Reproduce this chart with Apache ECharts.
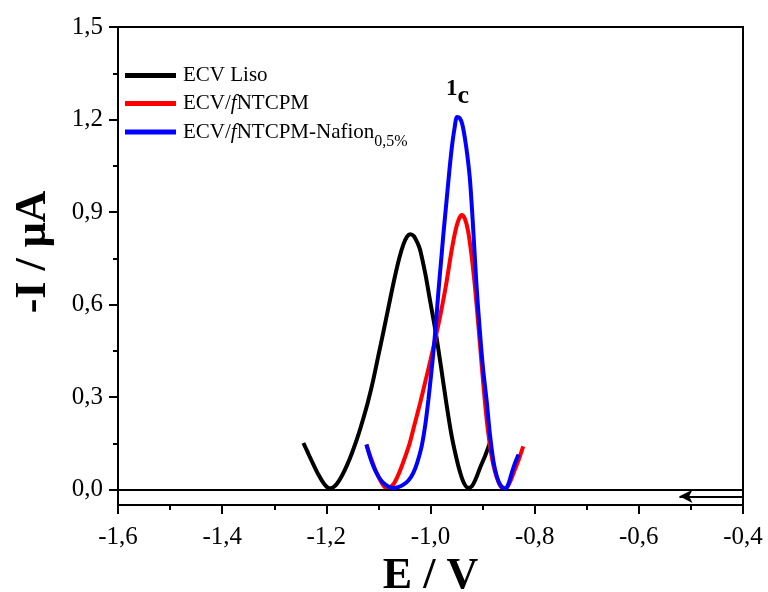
<!DOCTYPE html>
<html>
<head>
<meta charset="utf-8">
<script src="https://cdn.jsdelivr.net/npm/echarts@6/dist/echarts.min.js"></script>
<style>html,body{margin:0;padding:0;background:#fff}#c{width:768px;height:592px}</style>
</head>
<body>
<div id="c"></div>
<script>
// ECV Liso
const blackE = [-1.244,-1.235,-1.225,-1.215,-1.205,-1.198,-1.193,-1.187,-1.180,-1.170,-1.160,-1.150,-1.140,-1.130,-1.120,-1.110,-1.100,-1.090,-1.080,-1.070,-1.060,-1.052,-1.045,-1.039,-1.032,-1.025,-1.020,-1.010,-1.000,-0.990,-0.980,-0.970,-0.960,-0.950,-0.943,-0.936,-0.928,-0.921,-0.913,-0.905,-0.895,-0.886];
const blackI = [0.151,0.118,0.082,0.048,0.020,0.007,0.004,0.007,0.018,0.045,0.080,0.122,0.170,0.225,0.285,0.355,0.435,0.515,0.597,0.678,0.750,0.795,0.820,0.828,0.822,0.800,0.778,0.700,0.605,0.510,0.400,0.285,0.180,0.100,0.055,0.022,0.006,0.010,0.035,0.070,0.110,0.151];
// ECV/fNTCPM
const redE = [-1.123,-1.115,-1.105,-1.095,-1.088,-1.083,-1.077,-1.070,-1.060,-1.050,-1.040,-1.030,-1.020,-1.010,-1.000,-0.990,-0.980,-0.970,-0.960,-0.952,-0.946,-0.940,-0.934,-0.928,-0.922,-0.916,-0.910,-0.904,-0.898,-0.892,-0.886,-0.880,-0.873,-0.866,-0.859,-0.853,-0.846,-0.838,-0.830,-0.822];
const redI = [0.146,0.105,0.060,0.025,0.008,0.004,0.008,0.020,0.055,0.100,0.150,0.215,0.280,0.350,0.420,0.495,0.575,0.665,0.770,0.840,0.875,0.890,0.878,0.840,0.770,0.680,0.570,0.450,0.330,0.225,0.145,0.085,0.040,0.012,0.003,0.008,0.030,0.065,0.100,0.140];
// ECV/fNTCPM-Nafion 0,5%
const blueE = [-1.123,-1.115,-1.107,-1.099,-1.091,-1.081,-1.071,-1.062,-1.052,-1.042,-1.033,-1.025,-1.017,-1.010,-1.004,-0.999,-0.994,-0.989,-0.985,-0.980,-0.975,-0.969,-0.964,-0.959,-0.954,-0.949,-0.944,-0.939,-0.934,-0.929,-0.924,-0.918,-0.912,-0.905,-0.899,-0.892,-0.886,-0.879,-0.873,-0.867,-0.861,-0.855,-0.849,-0.844,-0.838,-0.831];
const blueI = [0.146,0.100,0.065,0.040,0.022,0.010,0.005,0.008,0.016,0.030,0.054,0.090,0.140,0.210,0.292,0.370,0.454,0.550,0.638,0.735,0.833,0.940,1.030,1.110,1.170,1.208,1.205,1.185,1.140,1.080,1.000,0.845,0.670,0.508,0.390,0.285,0.180,0.090,0.045,0.018,0.006,0.004,0.025,0.054,0.085,0.114];

const yMajor = [0, 0.3, 0.6, 0.9, 1.2, 1.5];
const yMinor = [0.15, 0.45, 0.75, 1.05, 1.35];
const seriesNames = ['ECV Liso', 'ECV/fNTCPM', 'ECV/fNTCPM-Nafion0,5%'];

const FONT = '"Liberation Serif","Times New Roman",serif';
const fmt = v => (Math.round(v * 10) / 10).toFixed(1).replace('.', ',');
const zip = (a, b) => a.map((x, i) => [x, b[i]]);

const chart = echarts.init(document.getElementById('c'));

const legendRich = {
  a: {fontFamily: FONT, fontSize: 21, color: '#000', lineHeight: 24, verticalAlign: 'middle'},
  i: {fontFamily: FONT, fontSize: 21, color: '#000', fontStyle: 'italic', lineHeight: 24, verticalAlign: 'middle'},
  s: {fontFamily: FONT, fontSize: 16, color: '#000', lineHeight: 16, padding: [20, 0, 0, 0], verticalAlign: 'middle'}
};
function legendFmt(name) {
  if (name === seriesNames[0]) return '{a|ECV Liso}';
  if (name === seriesNames[1]) return '{a|ECV/}{i|f}{a|NTCPM}';
  return '{a|ECV/}{i|f}{a|NTCPM-Nafion}{s|0,5%}';
}
function mkLegend(idx, top) {
  return {
    data: [seriesNames[idx]], left: 125, top: top, orient: 'vertical', padding: 0,
    icon: 'rect', itemWidth: 51, itemHeight: 5, itemGap: 0,
    formatter: legendFmt,
    textStyle: {rich: legendRich, padding: [0, 0, 0, 2]},
    selectedMode: false
  };
}

chart.setOption({
  animation: false,
  backgroundColor: '#fff',
  grid: {left: 118, right: 25, top: 27, bottom: 87, show: true, borderColor: '#000', borderWidth: 2, outerBoundsMode: 'none', containLabel: false},
  legend: [mkLegend(0, 65), mkLegend(1, 93), mkLegend(2, 114)],
  xAxis: {
    type: 'value', min: -1.6, max: -0.4, interval: 0.2,
    name: 'E / V', nameLocation: 'middle', nameGap: 48,
    nameTextStyle: {fontFamily: FONT, fontSize: 44, fontWeight: 'bold', color: '#000'},
    axisLine: {show: true, onZero: false, lineStyle: {color: '#000', width: 2}},
    axisTick: {show: true, inside: false, length: 9, lineStyle: {color: '#000', width: 2}},
    minorTick: {show: true, splitNumber: 2, length: 5, lineStyle: {color: '#000', width: 2}},
    axisLabel: {formatter: fmt, fontFamily: FONT, fontSize: 25, color: '#000', margin: 20},
    splitLine: {show: false}, minorSplitLine: {show: false}
  },
  yAxis: [{
    type: 'value', min: -0.05, max: 1.5,
    name: '-I / μA', nameLocation: 'middle', nameGap: 62, nameRotate: 90,
    nameTextStyle: {fontFamily: FONT, fontSize: 44, fontWeight: 'bold', color: '#000', padding: [0, 0, 0, 28]},
    axisLine: {show: true, onZero: false, lineStyle: {color: '#000', width: 2}},
    axisTick: {show: true, inside: false, length: 9, customValues: yMajor, lineStyle: {color: '#000', width: 2}},
    axisLabel: {customValues: yMajor, formatter: fmt, fontFamily: FONT, fontSize: 25, color: '#000', margin: 15},
    splitLine: {show: false}
  }, {
    type: 'value', min: -0.05, max: 1.5, position: 'left',
    axisLine: {show: false},
    axisTick: {show: true, inside: false, length: 5, customValues: yMinor, lineStyle: {color: '#000', width: 2}},
    axisLabel: {show: false},
    splitLine: {show: false}
  }],
  graphic: [{
    type: 'text', left: 446, top: 69, silent: true,
    style: {
      text: '{n|1}{c|c}',
      rich: {
        n: {fontFamily: FONT, fontSize: 23, fontWeight: 'bold', fill: '#000', lineHeight: 24, verticalAlign: 'middle'},
        c: {fontFamily: FONT, fontSize: 26, fontWeight: 'bold', fill: '#000', lineHeight: 20, padding: [14, 0, 0, 0], verticalAlign: 'middle'}
      }
    }
  }],
  series: [{
    name: seriesNames[0], type: 'line', data: zip(blackE, blackI), smooth: 0.3,
    symbol: 'none', color: '#000', lineStyle: {width: 4, color: '#000'}, z: 3,
    markLine: {
      silent: true, symbol: ['none', 'none'], animation: false,
      lineStyle: {color: '#000', width: 2, type: 'solid'}, label: {show: false},
      data: [[{coord: [-1.6, 0]}, {coord: [-0.4, 0]}]]
    }
  }, {
    name: seriesNames[1], type: 'line', data: zip(redE, redI), smooth: 0.3,
    symbol: 'none', color: '#ff0000', lineStyle: {width: 4, color: '#ff0000'}, z: 4,
    markLine: {
      silent: true, symbol: ['none', 'arrow'], symbolSize: [10, 13], animation: false,
      lineStyle: {color: '#000', width: 2, type: 'solid'}, label: {show: false},
      data: [[{coord: [-0.402, -0.022]}, {coord: [-0.522, -0.022]}]]
    }
  }, {
    name: seriesNames[2], type: 'line', data: zip(blueE, blueI), smooth: 0.3,
    symbol: 'none', color: '#0000ff', lineStyle: {width: 4, color: '#0000ff'}, z: 5
  }]
});
</script>
</body>
</html>
